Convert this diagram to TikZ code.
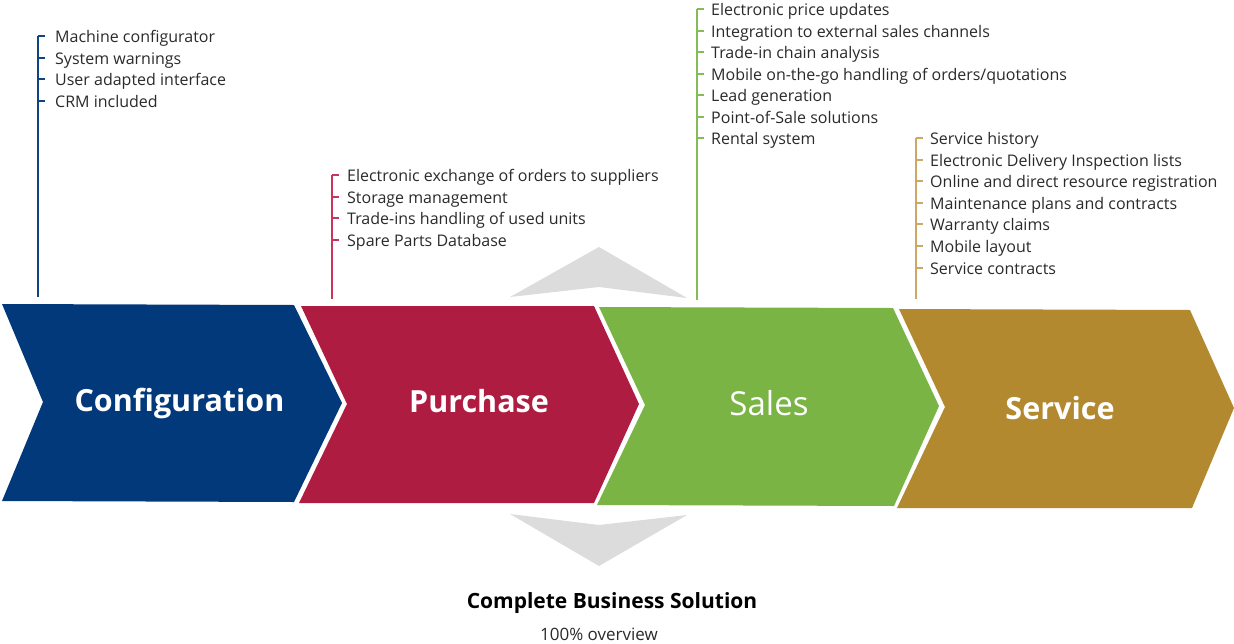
\documentclass[tikz,border=0pt]{standalone}
\usepackage{fontspec}
\setmainfont{Open Sans}
\definecolor{cnavy}{HTML}{02397A}
\definecolor{ccrim}{HTML}{AE1C41}
\definecolor{cgreen}{HTML}{7AB445}
\definecolor{cgold}{HTML}{B2892F}
\definecolor{lnavy}{HTML}{0F4384}
\definecolor{lcrim}{HTML}{C8365E}
\definecolor{lgreen}{HTML}{86BC58}
\definecolor{lgold}{HTML}{CBA864}
\definecolor{arrowgray}{HTML}{DCDCDC}
\definecolor{txt}{HTML}{2A2A2A}
\begin{document}
\begin{tikzpicture}[x=1pt,y=-1pt,
  item/.style={anchor=base west,inner sep=0pt,text=txt,font=\fontsize{16}{19}\selectfont},
  title/.style={anchor=base,text=white,font=\bfseries\fontsize{30.5}{36}\selectfont,inner sep=0pt},
  brack/.style={line width=1.1pt},
]
\useasboundingbox (0,0) rectangle (1234,643);
% chevrons
\fill[cnavy] (2,304) -- (294,305) -- (342,403) -- (294,502) -- (2,501) -- (43,402) -- cycle;
\fill[ccrim] (301,306) -- (594,306) -- (639,404) -- (594,503) -- (299,503) -- (347,404) -- cycle;
\fill[cgreen] (599,307) -- (893,308) -- (939,406) -- (894,506) -- (597,505) -- (645,405) -- cycle;
\fill[cgold] (899,309) -- (1190,310) -- (1234,408) -- (1192,508) -- (897,508) -- (945,407) -- cycle;
\node[title] (tconf) at (179.5,411) {Configuration};
\node[title] (tpurch) at (479,412) {Purchase};
\node[title,font=\fontsize{33}{38}\selectfont] (tsales) at (769,415.5) {Sales};
\node[title] (tserv) at (1060,419) {Service};
% gray arrows
\fill[arrowgray] (510,297) -- (599,247) -- (687,298) -- (599,287) -- cycle;
\fill[arrowgray] (510,514) -- (599,525) -- (687,515) -- (599,566) -- cycle;
% Configuration list
\coordinate (c0) at (38,297);
\foreach \y/\t [count=\i] in {36/{Machine configurator},58/{System warnings},79/{User adapted interface},101/{CRM included}}{
  \node[item] (ci\i) at (55,\y+6.5) {\t};
  \draw[brack,lnavy] (38,\y) -- (45,\y);
}
\draw[brack,lnavy] (38,35.5) -- (c0);
% Purchase list
\coordinate (p0) at (332,299);
\foreach \y/\t [count=\i] in {175/{Electronic exchange of orders to suppliers},197/{Storage management},218/{Trade-ins handling of used units},240/{Spare Parts Database}}{
  \node[item] (pi\i) at (347,\y+6.5) {\t};
  \draw[brack,lcrim] (332,\y) -- (339,\y);
}
\draw[brack,lcrim] (332,174.5) -- (p0);
% Sales list
\coordinate (s0) at (697,300);
\foreach \y/\t [count=\i] in {9/{Electronic price updates},31/{Integration to external sales channels},52/{Trade-in chain analysis},74/{Mobile on-the-go handling of orders/quotations},95/{Lead generation},117/{Point-of-Sale solutions},138/{Rental system}}{
  \node[item] (si\i) at (711,\y+6.5) {\t};
  \draw[brack,lgreen] (697,\y) -- (704,\y);
}
\draw[brack,lgreen] (697,8.5) -- (s0);
% Service list
\coordinate (v0) at (916,299);
\foreach \y/\t [count=\i] in {138/{Service history},160/{Electronic Delivery Inspection lists},181/{Online and direct resource registration},203/{Maintenance plans and contracts},224/{Warranty claims},246/{Mobile layout},268/{Service contracts}}{
  \node[item] (vi\i) at (930,\y+6.5) {\t};
  \draw[brack,lgold] (916,\y) -- (923,\y);
}
\draw[brack,lgold] (916,137.5) -- (v0);
% bottom texts
\node[anchor=base,inner sep=0pt,font=\bfseries\fontsize{21}{25}\selectfont,text=black] (cbs) at (612,608) {Complete Business Solution};
\node[anchor=base,inner sep=0pt,font=\fontsize{17}{20}\selectfont,text=txt] (ov) at (599,640) {100\% overview};
\end{tikzpicture}
\end{document}
